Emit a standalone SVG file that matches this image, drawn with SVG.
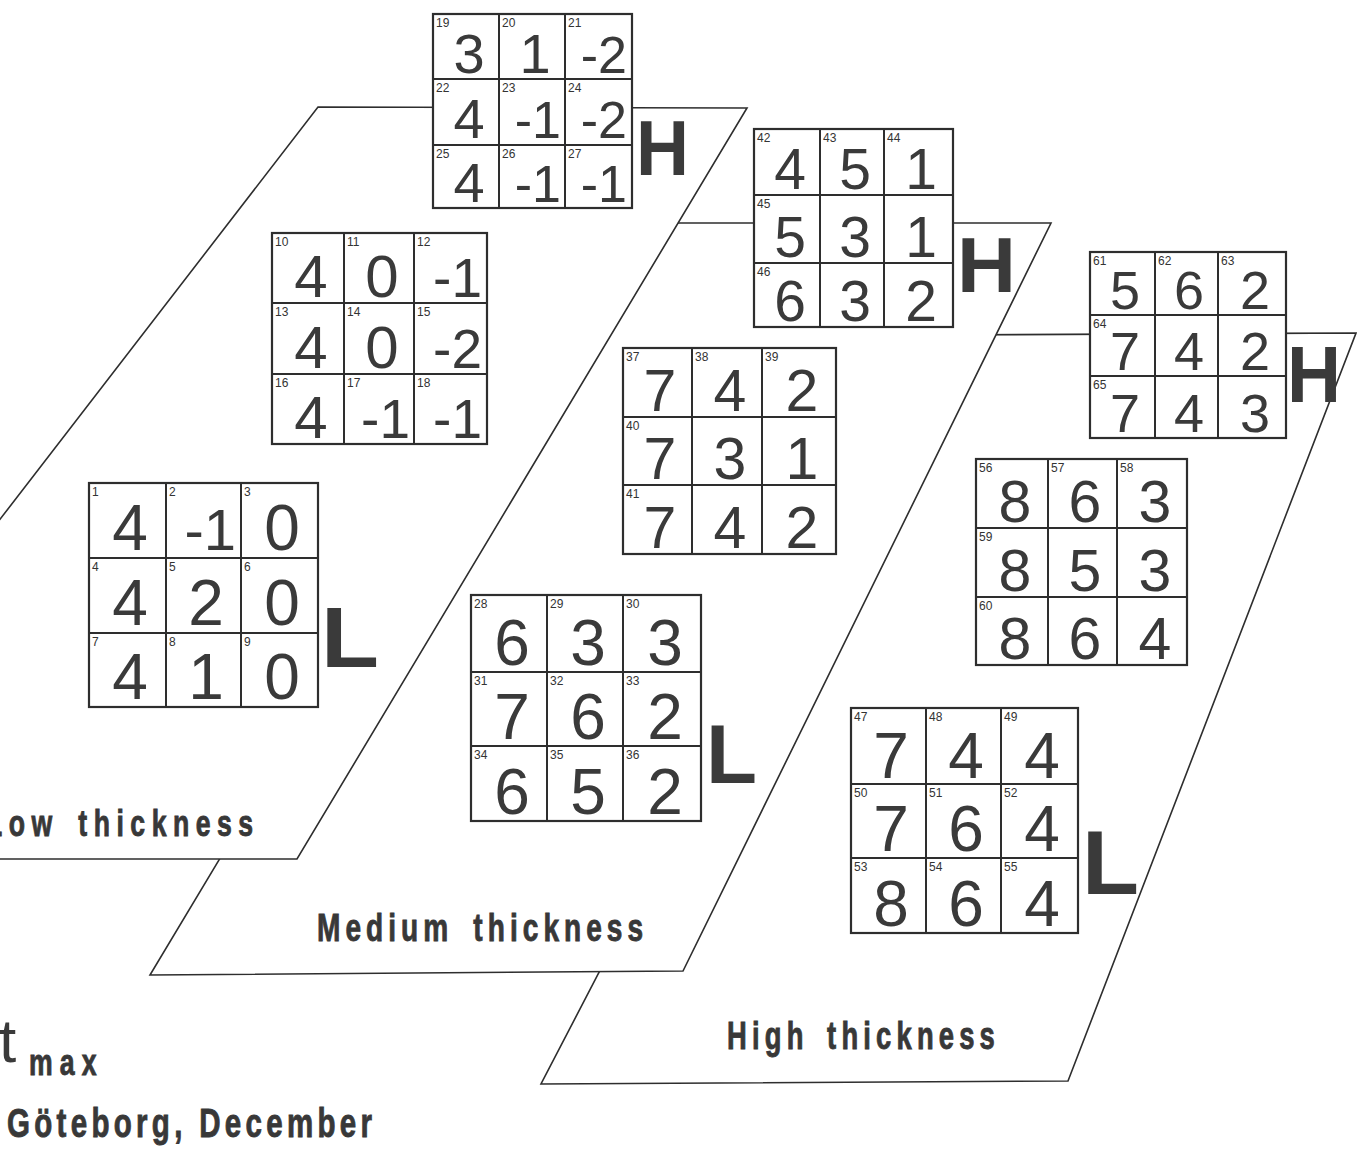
<svg xmlns="http://www.w3.org/2000/svg" width="1357" height="1153" viewBox="0 0 1357 1153">
<style>
.bg{fill:#ffffff}
.plane{fill:#ffffff;stroke:#2e2e2e;stroke-width:1.6;stroke-linejoin:miter}
.box{fill:#ffffff;stroke:#2e2e2e;stroke-width:2.2}
.gl{stroke:#2e2e2e;stroke-width:2;fill:none}
.i{font-family:"Liberation Sans",Arial,sans-serif;font-size:12px;fill:#333}
.d{font-family:"Liberation Sans",Arial,sans-serif;fill:#3a3a3a;text-anchor:middle}
.n{font-family:"Liberation Sans",Arial,sans-serif;fill:#3a3a3a;text-anchor:end}
.hl{font-family:"Liberation Sans",Arial,sans-serif;font-weight:bold;fill:#3a3a3a}
.lab{font-family:"Liberation Sans",Arial,sans-serif;font-weight:bold;fill:#383838;stroke:#383838;stroke-width:0.9}
</style>
<rect class="bg" x="0" y="0" width="1357" height="1153"/>

<g id="plane-high"><polygon class="plane" points="930,335 1356,333 1068,1081 541,1084"/></g>
<g id="plane-medium"><polygon class="plane" points="601,223 1051,223 683,971 150,975"/></g>
<g id="plane-low"><polygon class="plane" points="318,107 747,108 297,859 -262,859"/></g>
<g id="connectors"/>

<g id="labels">
<text class="lab" transform="translate(-14,836) scale(0.72,1)" x="0" y="0" font-size="37" textLength="371" lengthAdjust="spacing" word-spacing="8">Low thickness</text>
<text class="lab" transform="translate(317,941) scale(0.72,1)" x="0" y="0" font-size="39" textLength="453" lengthAdjust="spacing" word-spacing="10">Medium thickness</text>
<text class="lab" transform="translate(727,1049) scale(0.72,1)" x="0" y="0" font-size="38" textLength="372" lengthAdjust="spacing" word-spacing="8">High thickness</text>
<text x="-1" y="1062" font-family="Liberation Sans, Arial, sans-serif" font-size="62" fill="#3a3a3a">t</text>
<text class="lab" transform="translate(29,1075) scale(0.72,1)" x="0" y="0" font-size="37" textLength="94" lengthAdjust="spacing">max</text>
<text class="lab" transform="translate(7,1137) scale(0.72,1)" x="0" y="0" font-size="41" textLength="507" lengthAdjust="spacing">Göteborg, December</text>
</g>

<!-- Low H grid 19-27 -->
<g id="grid-low-h">
<rect class="box" x="433" y="14" width="199" height="194"/>
<path class="gl" d="M499,14V208M565,14V208M433,79H632M433,145H632"/>
<text class="i" x="436" y="27">19</text><text class="d" font-size="56" x="469" y="73">3</text>
<text class="i" x="502" y="27">20</text><text class="d" font-size="56" x="535" y="73">1</text>
<text class="i" x="568" y="27">21</text><text class="n" font-size="52" x="627" y="73">-2</text>
<text class="i" x="436" y="92">22</text><text class="d" font-size="56" x="469" y="138">4</text>
<text class="i" x="502" y="92">23</text><text class="n" font-size="52" x="561" y="138">-1</text>
<text class="i" x="568" y="92">24</text><text class="n" font-size="52" x="627" y="138">-2</text>
<text class="i" x="436" y="158">25</text><text class="d" font-size="56" x="469" y="202">4</text>
<text class="i" x="502" y="158">26</text><text class="n" font-size="52" x="561" y="202">-1</text>
<text class="i" x="568" y="158">27</text><text class="n" font-size="52" x="627" y="202">-1</text>
<text class="hl" x="636" y="175" font-size="77" textLength="53" lengthAdjust="spacingAndGlyphs">H</text>
</g>

<!-- Low middle grid 10-18 -->
<g id="grid-low-m">
<rect class="box" x="272" y="233" width="215" height="211"/>
<path class="gl" d="M344,233V444M414,233V444M272,303H487M272,374H487"/>
<text class="i" x="275" y="246">10</text><text class="d" font-size="60" x="311" y="297">4</text>
<text class="i" x="347" y="246">11</text><text class="d" font-size="60" x="382" y="297">0</text>
<text class="i" x="417" y="246">12</text><text class="n" font-size="55" x="482" y="297">-1</text>
<text class="i" x="275" y="316">13</text><text class="d" font-size="60" x="311" y="368">4</text>
<text class="i" x="347" y="316">14</text><text class="d" font-size="60" x="382" y="368">0</text>
<text class="i" x="417" y="316">15</text><text class="n" font-size="55" x="482" y="368">-2</text>
<text class="i" x="275" y="387">16</text><text class="d" font-size="60" x="311" y="438">4</text>
<text class="i" x="347" y="387">17</text><text class="n" font-size="55" x="410" y="438">-1</text>
<text class="i" x="417" y="387">18</text><text class="n" font-size="55" x="482" y="438">-1</text>
</g>

<!-- Low L grid 1-9 -->
<g id="grid-low-l">
<rect class="box" x="89" y="483" width="229" height="224"/>
<path class="gl" d="M166,483V707M241,483V707M89,558H318M89,633H318"/>
<text class="i" x="92" y="496">1</text><text class="d" font-size="64" x="130" y="550">4</text>
<text class="i" x="169" y="496">2</text><text class="n" font-size="58" x="236" y="550">-1</text>
<text class="i" x="244" y="496">3</text><text class="d" font-size="64" x="282" y="550">0</text>
<text class="i" x="92" y="571">4</text><text class="d" font-size="64" x="130" y="625">4</text>
<text class="i" x="169" y="571">5</text><text class="d" font-size="64" x="206" y="625">2</text>
<text class="i" x="244" y="571">6</text><text class="d" font-size="64" x="282" y="625">0</text>
<text class="i" x="92" y="646">7</text><text class="d" font-size="64" x="130" y="699">4</text>
<text class="i" x="169" y="646">8</text><text class="d" font-size="64" x="206" y="699">1</text>
<text class="i" x="244" y="646">9</text><text class="d" font-size="64" x="282" y="699">0</text>
<text class="hl" x="321" y="667" font-size="86" textLength="58" lengthAdjust="spacingAndGlyphs">L</text>
</g>

<!-- Medium H grid 42-46 -->
<g id="grid-med-h">
<rect class="box" x="754" y="129" width="199" height="198"/>
<path class="gl" d="M820,129V327M884,129V327M754,195H953M754,263H953"/>
<text class="i" x="757" y="142">42</text><text class="d" font-size="57" x="790" y="189">4</text>
<text class="i" x="823" y="142">43</text><text class="d" font-size="57" x="855" y="189">5</text>
<text class="i" x="887" y="142">44</text><text class="d" font-size="57" x="921" y="189">1</text>
<text class="i" x="757" y="208">45</text><text class="d" font-size="57" x="790" y="257">5</text>
<text class="d" font-size="57" x="855" y="257">3</text>
<text class="d" font-size="57" x="921" y="257">1</text>
<text class="i" x="757" y="276">46</text><text class="d" font-size="57" x="790" y="321">6</text>
<text class="d" font-size="57" x="855" y="321">3</text>
<text class="d" font-size="57" x="921" y="321">2</text>
<text class="hl" x="957" y="292" font-size="77" textLength="59" lengthAdjust="spacingAndGlyphs">H</text>
</g>

<!-- Medium middle grid 37-41 -->
<g id="grid-med-m">
<rect class="box" x="623" y="348" width="213" height="206"/>
<path class="gl" d="M692,348V554M762,348V554M623,417H836M623,485H836"/>
<text class="i" x="626" y="361">37</text><text class="d" font-size="59" x="660" y="411">7</text>
<text class="i" x="695" y="361">38</text><text class="d" font-size="59" x="730" y="411">4</text>
<text class="i" x="765" y="361">39</text><text class="d" font-size="59" x="802" y="411">2</text>
<text class="i" x="626" y="430">40</text><text class="d" font-size="59" x="660" y="479">7</text>
<text class="d" font-size="59" x="730" y="479">3</text>
<text class="d" font-size="59" x="802" y="479">1</text>
<text class="i" x="626" y="498">41</text><text class="d" font-size="59" x="660" y="548">7</text>
<text class="d" font-size="59" x="730" y="548">4</text>
<text class="d" font-size="59" x="802" y="548">2</text>
</g>

<!-- Medium L grid 28-36 -->
<g id="grid-med-l">
<rect class="box" x="471" y="595" width="230" height="226"/>
<path class="gl" d="M547,595V821M623,595V821M471,672H701M471,746H701"/>
<text class="i" x="474" y="608">28</text><text class="d" font-size="64" x="512" y="665">6</text>
<text class="i" x="550" y="608">29</text><text class="d" font-size="64" x="588" y="665">3</text>
<text class="i" x="626" y="608">30</text><text class="d" font-size="64" x="665" y="665">3</text>
<text class="i" x="474" y="685">31</text><text class="d" font-size="64" x="512" y="739">7</text>
<text class="i" x="550" y="685">32</text><text class="d" font-size="64" x="588" y="739">6</text>
<text class="i" x="626" y="685">33</text><text class="d" font-size="64" x="665" y="739">2</text>
<text class="i" x="474" y="759">34</text><text class="d" font-size="64" x="512" y="814">6</text>
<text class="i" x="550" y="759">35</text><text class="d" font-size="64" x="588" y="814">5</text>
<text class="i" x="626" y="759">36</text><text class="d" font-size="64" x="665" y="814">2</text>
<text class="hl" x="706" y="783" font-size="84" textLength="51" lengthAdjust="spacingAndGlyphs">L</text>
</g>

<!-- High H grid 61-65 -->
<g id="grid-high-h">
<rect class="box" x="1090" y="252" width="196" height="186"/>
<path class="gl" d="M1155,252V438M1218,252V438M1090,315H1286M1090,376H1286"/>
<text class="i" x="1093" y="265">61</text><text class="d" font-size="54" x="1125" y="309">5</text>
<text class="i" x="1158" y="265">62</text><text class="d" font-size="54" x="1189" y="309">6</text>
<text class="i" x="1221" y="265">63</text><text class="d" font-size="54" x="1255" y="309">2</text>
<text class="i" x="1093" y="328">64</text><text class="d" font-size="54" x="1125" y="370">7</text>
<text class="d" font-size="54" x="1189" y="370">4</text>
<text class="d" font-size="54" x="1255" y="370">2</text>
<text class="i" x="1093" y="389">65</text><text class="d" font-size="54" x="1125" y="432">7</text>
<text class="d" font-size="54" x="1189" y="432">4</text>
<text class="d" font-size="54" x="1255" y="432">3</text>
<text class="hl" x="1287" y="402" font-size="79" textLength="54" lengthAdjust="spacingAndGlyphs">H</text>
</g>

<!-- High middle grid 56-60 -->
<g id="grid-high-m">
<rect class="box" x="976" y="459" width="211" height="206"/>
<path class="gl" d="M1048,459V665M1117,459V665M976,528H1187M976,597H1187"/>
<text class="i" x="979" y="472">56</text><text class="d" font-size="59" x="1015" y="522">8</text>
<text class="i" x="1051" y="472">57</text><text class="d" font-size="59" x="1085" y="522">6</text>
<text class="i" x="1120" y="472">58</text><text class="d" font-size="59" x="1155" y="522">3</text>
<text class="i" x="979" y="541">59</text><text class="d" font-size="59" x="1015" y="591">8</text>
<text class="d" font-size="59" x="1085" y="591">5</text>
<text class="d" font-size="59" x="1155" y="591">3</text>
<text class="i" x="979" y="610">60</text><text class="d" font-size="59" x="1015" y="659">8</text>
<text class="d" font-size="59" x="1085" y="659">6</text>
<text class="d" font-size="59" x="1155" y="659">4</text>
</g>

<!-- High L grid 47-55 -->
<g id="grid-high-l">
<rect class="box" x="851" y="708" width="227" height="225"/>
<path class="gl" d="M926,708V933M1001,708V933M851,784H1078M851,858H1078"/>
<text class="i" x="854" y="721">47</text><text class="d" font-size="64" x="891" y="778">7</text>
<text class="i" x="929" y="721">48</text><text class="d" font-size="64" x="966" y="778">4</text>
<text class="i" x="1004" y="721">49</text><text class="d" font-size="64" x="1042" y="778">4</text>
<text class="i" x="854" y="797">50</text><text class="d" font-size="64" x="891" y="851">7</text>
<text class="i" x="929" y="797">51</text><text class="d" font-size="64" x="966" y="851">6</text>
<text class="i" x="1004" y="797">52</text><text class="d" font-size="64" x="1042" y="851">4</text>
<text class="i" x="854" y="871">53</text><text class="d" font-size="64" x="891" y="926">8</text>
<text class="i" x="929" y="871">54</text><text class="d" font-size="64" x="966" y="926">6</text>
<text class="i" x="1004" y="871">55</text><text class="d" font-size="64" x="1042" y="926">4</text>
<text class="hl" x="1082" y="894" font-size="90" textLength="57" lengthAdjust="spacingAndGlyphs">L</text>
</g>
</svg>
